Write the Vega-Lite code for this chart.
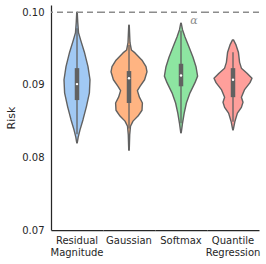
{
  "$schema": "https://vega.github.io/schema/vega-lite/v6.json",
  "padding": {"left": 5, "top": 5, "right": 5, "bottom": 5},
  "background": "white",
  "bounds": "flush",
  "config": {"view": {"stroke": null}, "font": "DejaVu Sans"},
  "data": {"values": [
    {"kind": "density", "category": "Residual Magnitude", "risk": 0.1000, "density": 0.012},
    {"kind": "density", "category": "Residual Magnitude", "risk": 0.0985, "density": 0.04},
    {"kind": "density", "category": "Residual Magnitude", "risk": 0.0972, "density": 0.075},
    {"kind": "density", "category": "Residual Magnitude", "risk": 0.0962, "density": 0.18},
    {"kind": "density", "category": "Residual Magnitude", "risk": 0.0945, "density": 0.37},
    {"kind": "density", "category": "Residual Magnitude", "risk": 0.0925, "density": 0.55},
    {"kind": "density", "category": "Residual Magnitude", "risk": 0.0907, "density": 0.65},
    {"kind": "density", "category": "Residual Magnitude", "risk": 0.0889, "density": 0.62},
    {"kind": "density", "category": "Residual Magnitude", "risk": 0.0870, "density": 0.47},
    {"kind": "density", "category": "Residual Magnitude", "risk": 0.0852, "density": 0.30},
    {"kind": "density", "category": "Residual Magnitude", "risk": 0.0838, "density": 0.15},
    {"kind": "density", "category": "Residual Magnitude", "risk": 0.0828, "density": 0.06},
    {"kind": "density", "category": "Residual Magnitude", "risk": 0.0820, "density": 0.012},
    {"kind": "density", "category": "Gaussian", "risk": 0.0982, "density": 0.012},
    {"kind": "density", "category": "Gaussian", "risk": 0.0958, "density": 0.05},
    {"kind": "density", "category": "Gaussian", "risk": 0.0948, "density": 0.12},
    {"kind": "density", "category": "Gaussian", "risk": 0.0944, "density": 0.30},
    {"kind": "density", "category": "Gaussian", "risk": 0.0934, "density": 0.65},
    {"kind": "density", "category": "Gaussian", "risk": 0.0925, "density": 0.85},
    {"kind": "density", "category": "Gaussian", "risk": 0.0918, "density": 0.90},
    {"kind": "density", "category": "Gaussian", "risk": 0.0907, "density": 0.78},
    {"kind": "density", "category": "Gaussian", "risk": 0.0898, "density": 0.55},
    {"kind": "density", "category": "Gaussian", "risk": 0.0892, "density": 0.42},
    {"kind": "density", "category": "Gaussian", "risk": 0.0883, "density": 0.52},
    {"kind": "density", "category": "Gaussian", "risk": 0.0875, "density": 0.67},
    {"kind": "density", "category": "Gaussian", "risk": 0.0865, "density": 0.65},
    {"kind": "density", "category": "Gaussian", "risk": 0.0857, "density": 0.45},
    {"kind": "density", "category": "Gaussian", "risk": 0.0850, "density": 0.20},
    {"kind": "density", "category": "Gaussian", "risk": 0.0843, "density": 0.075},
    {"kind": "density", "category": "Gaussian", "risk": 0.0831, "density": 0.035},
    {"kind": "density", "category": "Gaussian", "risk": 0.0810, "density": 0.012},
    {"kind": "density", "category": "Softmax", "risk": 0.0985, "density": 0.012},
    {"kind": "density", "category": "Softmax", "risk": 0.0976, "density": 0.075},
    {"kind": "density", "category": "Softmax", "risk": 0.0966, "density": 0.20},
    {"kind": "density", "category": "Softmax", "risk": 0.0952, "density": 0.40},
    {"kind": "density", "category": "Softmax", "risk": 0.0938, "density": 0.60},
    {"kind": "density", "category": "Softmax", "risk": 0.0925, "density": 0.75},
    {"kind": "density", "category": "Softmax", "risk": 0.0912, "density": 0.83},
    {"kind": "density", "category": "Softmax", "risk": 0.0903, "density": 0.70},
    {"kind": "density", "category": "Softmax", "risk": 0.0889, "density": 0.45},
    {"kind": "density", "category": "Softmax", "risk": 0.0875, "density": 0.27},
    {"kind": "density", "category": "Softmax", "risk": 0.0861, "density": 0.16},
    {"kind": "density", "category": "Softmax", "risk": 0.0847, "density": 0.075},
    {"kind": "density", "category": "Softmax", "risk": 0.0834, "density": 0.012},
    {"kind": "density", "category": "Quantile Regression", "risk": 0.0962, "density": 0.025},
    {"kind": "density", "category": "Quantile Regression", "risk": 0.0955, "density": 0.15},
    {"kind": "density", "category": "Quantile Regression", "risk": 0.0945, "density": 0.27},
    {"kind": "density", "category": "Quantile Regression", "risk": 0.0931, "density": 0.33},
    {"kind": "density", "category": "Quantile Regression", "risk": 0.0923, "density": 0.42},
    {"kind": "density", "category": "Quantile Regression", "risk": 0.0916, "density": 0.70},
    {"kind": "density", "category": "Quantile Regression", "risk": 0.0909, "density": 0.95},
    {"kind": "density", "category": "Quantile Regression", "risk": 0.0903, "density": 0.85},
    {"kind": "density", "category": "Quantile Regression", "risk": 0.0893, "density": 0.57},
    {"kind": "density", "category": "Quantile Regression", "risk": 0.0883, "density": 0.42},
    {"kind": "density", "category": "Quantile Regression", "risk": 0.0876, "density": 0.50},
    {"kind": "density", "category": "Quantile Regression", "risk": 0.0869, "density": 0.42},
    {"kind": "density", "category": "Quantile Regression", "risk": 0.0861, "density": 0.22},
    {"kind": "density", "category": "Quantile Regression", "risk": 0.0849, "density": 0.09},
    {"kind": "density", "category": "Quantile Regression", "risk": 0.0838, "density": 0.012},
    {"kind": "summary", "category": "Residual Magnitude", "lo": 0.0832, "q1": 0.0879, "median": 0.0901, "q3": 0.0923, "hi": 0.0978},
    {"kind": "summary", "category": "Gaussian", "lo": 0.0840, "q1": 0.0875, "median": 0.0909, "q3": 0.0919, "hi": 0.0955},
    {"kind": "summary", "category": "Softmax", "lo": 0.0847, "q1": 0.0898, "median": 0.0913, "q3": 0.0929, "hi": 0.0975},
    {"kind": "summary", "category": "Quantile Regression", "lo": 0.0849, "q1": 0.0883, "median": 0.0907, "q3": 0.0923, "hi": 0.0945},
    {"kind": "alpha", "category": "Softmax", "label": "α"}
  ]},
  "transform": [
    {"stack": "density", "groupby": ["kind", "category", "risk"], "offset": "center", "as": ["x0", "x1"]}
  ],
  "facet": {
    "column": {
      "field": "category",
      "type": "nominal",
      "sort": ["Residual Magnitude", "Gaussian", "Softmax", "Quantile Regression"],
      "header": {
        "title": null,
        "labelOrient": "bottom",
        "labelPadding": 6,
        "labelFontSize": 10,
        "labelColor": "#262626",
        "labelLineHeight": 11.5,
        "labelExpr": "split(datum.label, ' ')"
      }
    }
  },
  "spacing": 0,
  "spec": {
    "width": 52,
    "height": 225,
    "layer": [
      {
        "transform": [{"filter": "datum.kind == 'density'"}],
        "mark": {"type": "area", "orient": "horizontal", "opacity": 1, "stroke": "#616161", "strokeWidth": 1.4, "strokeJoin": "round"},
        "encoding": {
          "y": {
            "field": "risk", "type": "quantitative",
            "scale": {"domain": [0.07, 0.101], "nice": false, "zero": false},
            "axis": {"values": [0.07, 0.08, 0.09, 0.10], "format": ".2f", "grid": false, "ticks": false, "labelPadding": 7, "labelFontSize": 10, "labelColor": "#262626", "domainColor": "#262626", "domainWidth": 1.25, "title": "Risk", "titleFontSize": 11, "titleFontWeight": "normal", "titleColor": "#262626", "titlePadding": 5}
          },
          "x": {
            "field": "x0", "type": "quantitative",
            "scale": {"domain": [-0.175, 1.125], "nice": false, "zero": false},
            "axis": {"labels": false, "ticks": false, "grid": false, "title": null, "domainColor": "#262626", "domainWidth": 1.25}
          },
          "x2": {"field": "x1"},
          "color": {
            "field": "category", "type": "nominal", "legend": null,
            "sort": ["Residual Magnitude", "Gaussian", "Softmax", "Quantile Regression"],
            "scale": {"range": ["#a1c9f4", "#ffb482", "#8de5a1", "#ff9f9b"]}
          }
        }
      },
      {
        "transform": [{"filter": "datum.kind == 'summary'"}],
        "mark": {"type": "rule", "color": "#616161", "strokeWidth": 1.3},
        "encoding": {
          "x": {"datum": 0.475, "type": "quantitative"},
          "y": {"field": "lo", "type": "quantitative"},
          "y2": {"field": "hi"}
        }
      },
      {
        "transform": [{"filter": "datum.kind == 'summary'"}],
        "mark": {"type": "rule", "color": "#616161", "strokeWidth": 4.5},
        "encoding": {
          "x": {"datum": 0.475, "type": "quantitative"},
          "y": {"field": "q1", "type": "quantitative"},
          "y2": {"field": "q3"}
        }
      },
      {
        "transform": [{"filter": "datum.kind == 'summary'"}],
        "mark": {"type": "point", "filled": true, "color": "white", "size": 6, "opacity": 1},
        "encoding": {
          "x": {"datum": 0.475, "type": "quantitative"},
          "y": {"field": "median", "type": "quantitative"}
        }
      },
      {
        "transform": [{"filter": "datum.kind == 'summary'"}],
        "mark": {"type": "rule", "color": "#8c8c8c", "strokeWidth": 1.4, "strokeDash": [6, 4]},
        "encoding": {
          "y": {"datum": 0.10, "type": "quantitative"}
        }
      },
      {
        "transform": [{"filter": "datum.kind == 'alpha'"}],
        "mark": {"type": "text", "fontSize": 11, "fontStyle": "italic", "color": "#8c8c8c", "font": "DejaVu Serif"},
        "encoding": {
          "x": {"datum": 0.8, "type": "quantitative"},
          "y": {"datum": 0.0988, "type": "quantitative"},
          "text": {"field": "label"}
        }
      }
    ]
  }
}
